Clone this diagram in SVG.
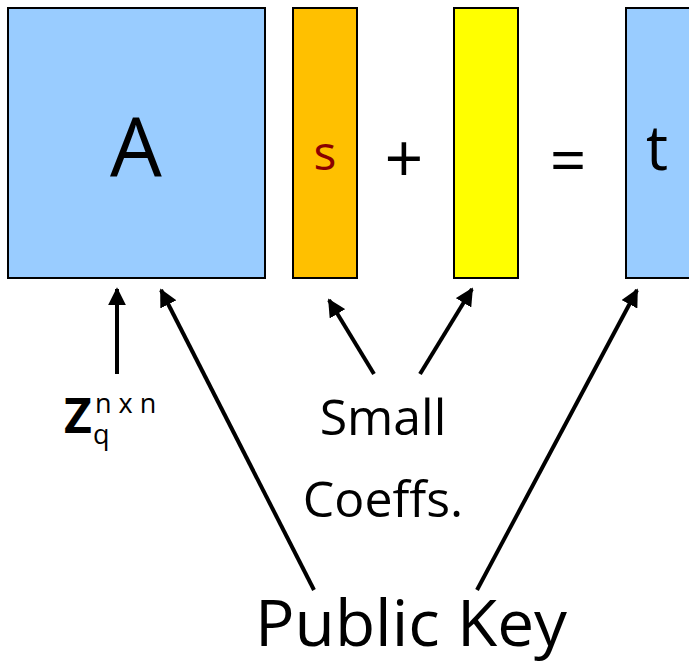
<svg xmlns="http://www.w3.org/2000/svg" width="689" height="665" viewBox="0 0 689 665">
  <style>
    .box { stroke: #000; stroke-width: 2; }
    .lbl { font-family: "Open Sans", "Noto Sans", "Liberation Sans", sans-serif; fill: #000; }
    .edge { stroke: #000; stroke-width: 4; fill: none; marker-end: url(#head); }
  </style>
  <defs>
    <marker id="head" viewBox="0 0 10 10" refX="9" refY="5" markerWidth="4.5" markerHeight="4.5" orient="auto" markerUnits="strokeWidth">
      <path d="M0,0 L10,5 L0,10 z" fill="#000"/>
    </marker>
  </defs>
  <rect width="689" height="665" fill="#fff"/>

  <g id="matrix-A">
    <rect class="box" x="8" y="8" width="257" height="270" fill="#99CCFF"/>
    <text class="lbl" x="136" y="177" font-size="82" text-anchor="middle">A</text>
  </g>
  <g id="vector-s">
    <rect class="box" x="293" y="8" width="64" height="270" fill="#FFC000"/>
    <text class="lbl" x="325" y="170" font-size="48" text-anchor="middle" style="fill:#8B0000">s</text>
  </g>
  <text class="lbl" x="404" y="183" font-size="68" text-anchor="middle">+</text>
  <g id="vector-e">
    <rect class="box" x="454" y="8" width="64" height="270" fill="#FFFF00"/>
  </g>
  <text class="lbl" x="568" y="183" font-size="64" text-anchor="middle">=</text>
  <g id="vector-t">
    <rect class="box" x="626" y="8" width="70" height="270" fill="#99CCFF"/>
    <text class="lbl" x="657" y="170" font-size="62" text-anchor="middle">t</text>
  </g>

  <g id="label-zq">
    <text class="lbl" x="64" y="433" font-size="48" font-weight="bold">Z</text>
    <text class="lbl" x="95" y="413" font-size="27">n x n</text>
    <text class="lbl" x="93" y="444" font-size="27">q</text>
  </g>
  <g id="label-small">
    <text class="lbl" x="383" y="435" font-size="50" text-anchor="middle">Small</text>
    <text class="lbl" x="383" y="517" font-size="50" text-anchor="middle">Coeffs.</text>
  </g>
  <g id="label-public-key">
    <text class="lbl" x="411" y="646" font-size="64" text-anchor="middle" textLength="312" lengthAdjust="spacingAndGlyphs">Public Key</text>
  </g>

  <g id="connectors">
    <line class="edge" x1="117" y1="374" x2="117" y2="289"/>
    <line class="edge" x1="314" y1="590" x2="161" y2="290"/>
    <line class="edge" x1="477" y1="590" x2="637" y2="290"/>
    <line class="edge" x1="374" y1="374" x2="329" y2="300"/>
    <line class="edge" x1="420" y1="374" x2="472" y2="289"/>
  </g>
</svg>
